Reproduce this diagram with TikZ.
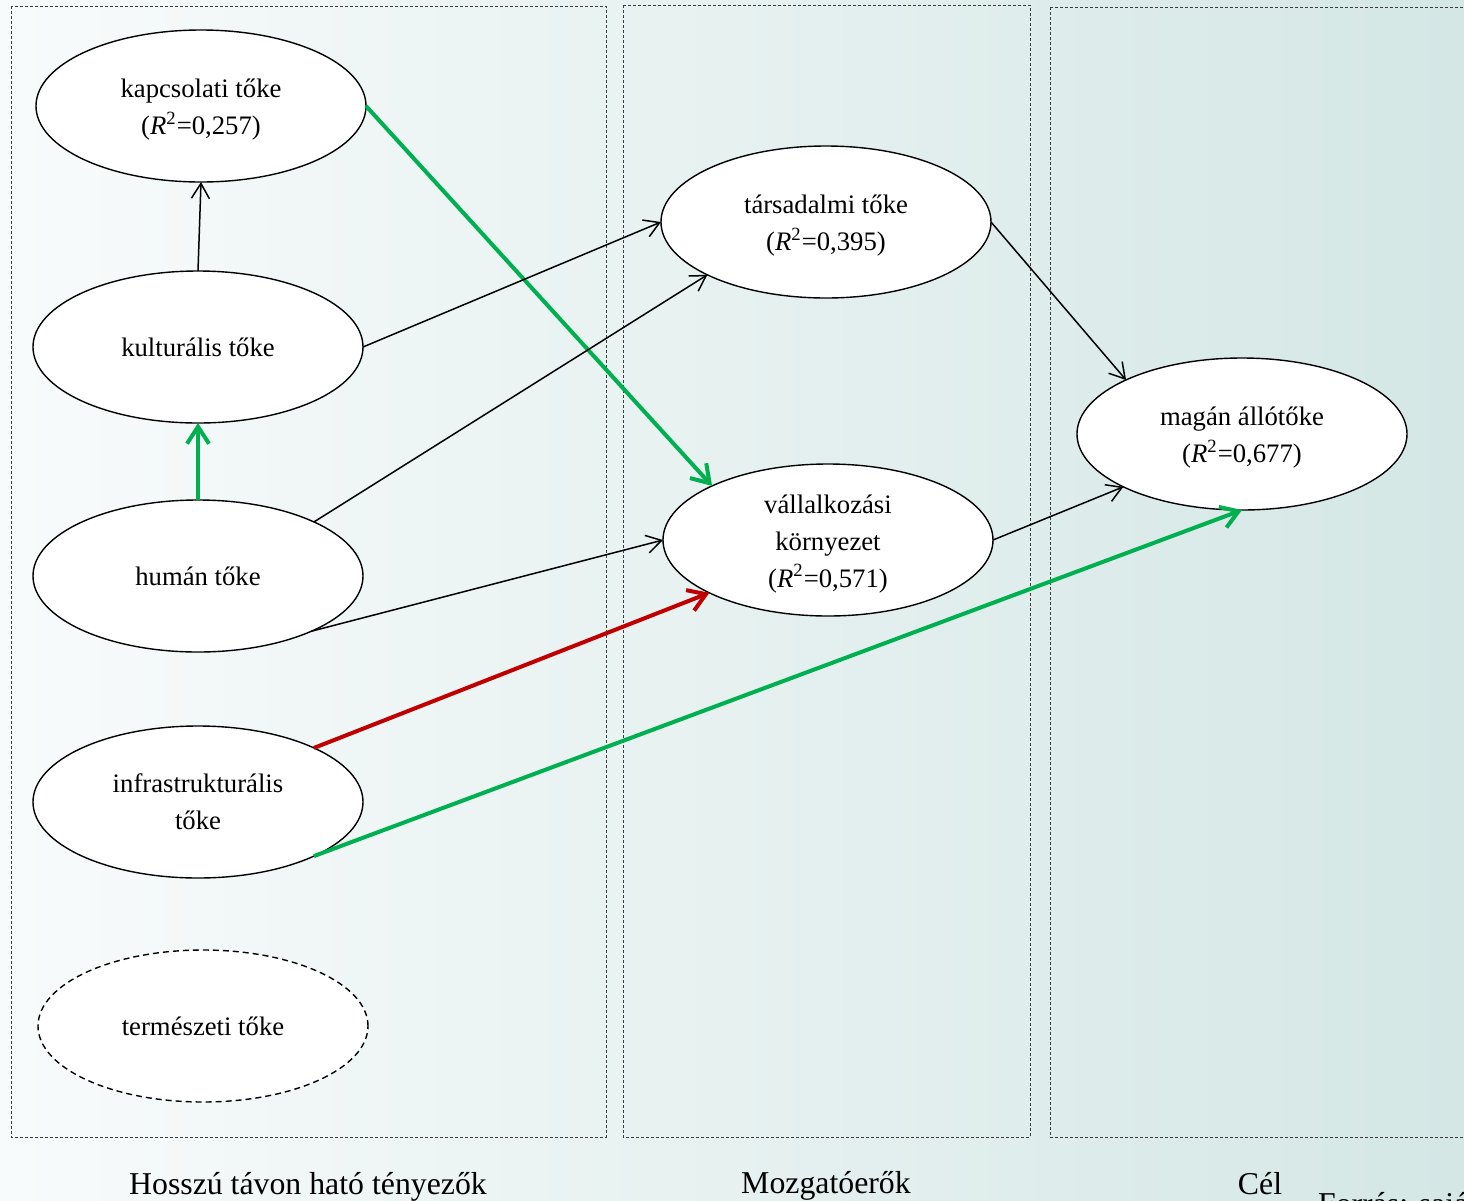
\documentclass[tikz,border=0pt]{standalone}
\usepackage{fontspec}
\setmainfont{Liberation Serif}
\usetikzlibrary{arrows.meta,shapes.geometric}
\definecolor{bgL}{RGB}{248,251,251}
\definecolor{bgR}{RGB}{212,231,229}
\definecolor{grn}{RGB}{0,176,80}
\definecolor{rd}{RGB}{192,0,0}
\definecolor{pan}{RGB}{60,60,60}
\tikzset{
  capnode/.style={ellipse,draw=black,line width=0.7pt,fill=white,minimum width=165pt,minimum height=76pt,inner sep=0pt,outer sep=0pt,align=center,font=\fontsize{13.35}{18.5}\selectfont},
  capdash/.style={capnode,dash pattern=on 3pt off 2pt},
  panel/.style={draw=pan,line width=0.5pt,dash pattern=on 1.5pt off 1pt},
  thinarr/.style={draw=black,line width=0.75pt,-{Straight Barb[length=7.5pt,width=9pt,line width=0.75pt]}},
  grnarr/.style={draw=grn,line width=2pt,-{Straight Barb[length=8.5pt,width=11pt,line width=2pt]}},
  redarr/.style={draw=rd,line width=2pt,-{Straight Barb[length=8.5pt,width=11pt,line width=2pt]}},
  lbl/.style={font=\fontsize{15.9}{18}\selectfont,anchor=base}
}
\newcommand{\Rsq}[1]{(\textit{R}\textsuperscript{2}=#1)}
\newcommand{\dn}[1]{\raisebox{0pt}[\dimexpr\height+4pt\relax][\depth]{#1}}
\begin{document}
\begin{tikzpicture}[x=0.5pt,y=-0.5pt]
\useasboundingbox (0,0) rectangle (1464,1201);
\shade[left color=bgL,right color=bgR] (0,0) rectangle (1464,1201);
% panels
\draw[panel] (11,6) rectangle (606,1137);
\draw[panel] (623,5) rectangle (1030,1137);
\draw[panel] (1050,7) -- (1470,7);
\draw[panel] (1050,7) -- (1050,1137) -- (1470,1137);
% nodes
\node[capnode] (kap) at (201,106) {\dn{kapcsolati tőke}\\\Rsq{0,257}};
\node[capnode] (kul) at (198,347) {kulturális tőke};
\node[capnode] (hum) at (198,576) {humán tőke};
\node[capnode] (inf) at (198,802) {infrastrukturális\\tőke};
\node[capdash] (ter) at (203,1026) {természeti tőke};
\node[capnode] (tar) at (826,222) {\dn{társadalmi tőke}\\\Rsq{0,395}};
\node[capnode] (val) at (828,540) {\dn{vállalkozási}\\környezet\\\Rsq{0,571}};
\node[capnode] (mag) at (1242,434) {\dn{magán állótőke}\\\Rsq{0,677}};
% labels
\node[lbl] (l1) at (308,1194) {Hosszú távon ható tényezők};
\node[lbl] (l2) at (826,1193) {Mozgatóerők};
\node[lbl] (l3) at (1260,1194) {Cél};
\node[lbl,anchor=base west] (l4) at (1311,1214) {Forrás: saját szerkesztés};
% connectors
\draw[thinarr] (kul.north) -- (kap.south);
\draw[grnarr] (hum.north) -- (kul.south);
\draw[grnarr] (kap.east) -- (val.155);
\draw[thinarr] (kul.east) -- (tar.west);
\draw[thinarr] (hum.25) -- (tar.204.6);
\draw[thinarr] (hum.334) -- (val.west);
\draw[redarr] (inf.25) -- (val.204);
\draw[grnarr] (inf.335.6) -- (mag.south);
\draw[thinarr] (tar.east) -- (mag.155);
\draw[thinarr] (val.east) -- (mag.204.4);
\end{tikzpicture}
\end{document}
